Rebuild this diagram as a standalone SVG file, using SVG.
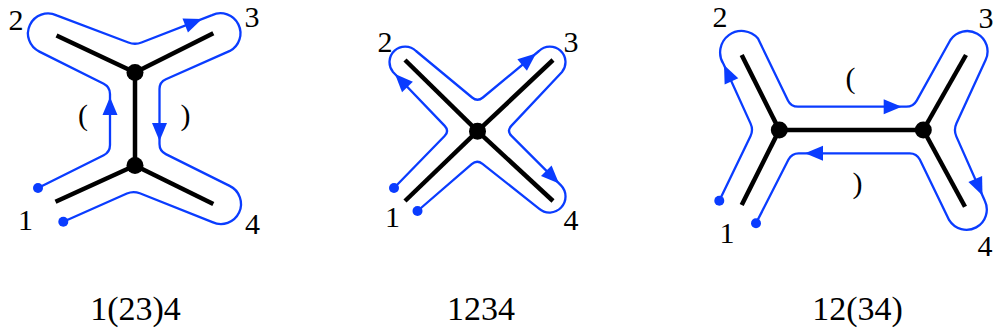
<svg xmlns="http://www.w3.org/2000/svg" xmlns:xlink="http://www.w3.org/1999/xlink" width="994" height="335" viewBox="0 0 994 335">
<defs>
<style>
.edge{stroke:#000;stroke-width:4.5;fill:none;stroke-linecap:butt}
.vtx{fill:#000}
.walk{stroke:#0a3cff;stroke-width:2.3;fill:none;stroke-linejoin:round}
.dot{fill:#0a3cff}
.arr{fill:#0a3cff}
.lbl{font-family:"Liberation Serif","Times New Roman",serif;font-size:30px;fill:#000;text-anchor:middle}
.cap{font-family:"Liberation Serif","Times New Roman",serif;font-size:34px;fill:#000;text-anchor:middle}
</style>
<path id="ah" d="M0,0 L-18,-7.5 L-18,7.5 Z"/>
</defs>
<rect width="994" height="335" fill="#fff"/>

<g id="connectors">
<g id="d1-edges">
<line class="edge" x1="135" y1="72.5" x2="56.5" y2="35.5"/>
<line class="edge" x1="135" y1="72.5" x2="213.3" y2="33.3"/>
<line class="edge" x1="135" y1="72.5" x2="135" y2="165.5"/>
<line class="edge" x1="135" y1="165.5" x2="55.5" y2="201.7"/>
<line class="edge" x1="135" y1="165.5" x2="213.3" y2="204"/>
</g>
<g id="d2-edges">
<line class="edge" x1="477.5" y1="131.2" x2="405" y2="60"/>
<line class="edge" x1="477.5" y1="131.2" x2="553" y2="60"/>
<line class="edge" x1="477.5" y1="131.2" x2="405" y2="201"/>
<line class="edge" x1="477.5" y1="131.2" x2="553" y2="201"/>
</g>
<g id="d3-edges">
<line class="edge" x1="779.3" y1="130" x2="741.7" y2="55"/>
<line class="edge" x1="779.3" y1="130" x2="741.7" y2="205"/>
<line class="edge" x1="779.3" y1="130" x2="923.3" y2="130"/>
<line class="edge" x1="923.3" y1="130" x2="966" y2="55"/>
<line class="edge" x1="923.3" y1="130" x2="965" y2="206.7"/>
</g>
</g>

<g id="d1-walk">
<path class="walk" d="M38,188 L103.7,155.2 Q110,152 110,145 L110,94 Q110,87 103.7,83.8 L39.4,51.6 A20 20 0 0 1 56.6,15.4 L128.4,42.5 Q135,45 141.5,42.5 L212.1,15.1 A20 20 0 0 1 229.9,50.9 L165.9,79.2 Q159.5,82 159.5,89 L159.5,144 Q159.5,151 165.8,154.1 L229.6,185.9 A20 20 0 0 1 212.4,222.1 L139.8,193.3 Q133.3,190.7 126.9,193.5 L63.3,221.7"/>
<circle class="dot" cx="38" cy="188" r="5"/>
<circle class="dot" cx="63.3" cy="221.7" r="5"/>
<use xlink:href="#ah" class="arr" transform="translate(110,97) rotate(-90)"/>
<use xlink:href="#ah" class="arr" transform="translate(159.5,141) rotate(90)"/>
<use xlink:href="#ah" class="arr" transform="translate(202,19) rotate(-21.2)"/>
</g>

<g id="d2-walk">
<path class="walk" d="M394,188 L444.6,136 Q449.5,131 444.7,125.9 L393,72 A15.6 15.6 0 0 1 416,51 L472.1,97.5 Q477.5,102 482.9,97.5 L539,51 A15.6 15.6 0 0 1 562,72 L511.3,125.9 Q506.5,131 511.5,135.9 L561,185.4 A16 16 0 0 1 539,208.6 L482.5,163.85 Q477,159.5 471.7,164.1 L417.5,211"/>
<circle class="dot" cx="394" cy="188" r="5"/>
<circle class="dot" cx="417.5" cy="211" r="5"/>
<use xlink:href="#ah" class="arr" transform="translate(395,74) rotate(-133.8)"/>
<use xlink:href="#ah" class="arr" transform="translate(536,53.5) rotate(-39.6)"/>
<use xlink:href="#ah" class="arr" transform="translate(559,183.5) rotate(45)"/>
</g>

<g id="d3-walk">
<path class="walk" d="M719.3,200.7 L750.45,136.3 Q753.5,130 750.6,123.6 L723.5,64 A21.5 21.5 0 0 1 758,38.5 L787.95,100.4 Q791,106.7 798,106.7 L906.3,106.7 Q913.3,106.7 916.7,100.6 L950.4,40 A20.3 20.3 0 0 1 985.6,60 L956.4,123.6 Q953.5,130 956.3,136.4 L984.8,200.8 A20.3 20.3 0 0 1 949.2,220.2 L919.8,159.6 Q916.7,153.3 909.7,153.3 L798.7,153.3 Q791.7,153.3 788.5,159.5 L756,223.3"/>
<circle class="dot" cx="719.3" cy="200.7" r="5"/>
<circle class="dot" cx="756" cy="223.3" r="5"/>
<use xlink:href="#ah" class="arr" transform="translate(724,65) rotate(-114.5)"/>
<use xlink:href="#ah" class="arr" transform="translate(901.7,106.7)"/>
<use xlink:href="#ah" class="arr" transform="translate(982.5,195.5) rotate(66.2)"/>
<use xlink:href="#ah" class="arr" transform="translate(805,153.3) rotate(180)"/>
</g>

<g id="d1-v-top"><circle class="vtx" cx="135" cy="72.5" r="8.5"/></g>
<g id="d1-v-bottom"><circle class="vtx" cx="135" cy="165.5" r="8.5"/></g>
<g id="d2-v-center"><circle class="vtx" cx="477.5" cy="131.2" r="8.5"/></g>
<g id="d3-v-left"><circle class="vtx" cx="779.3" cy="130" r="8.5"/></g>
<g id="d3-v-right"><circle class="vtx" cx="923.3" cy="130" r="8.5"/></g>

<g id="d1-labels">
<text class="lbl" x="16" y="30">2</text>
<text class="lbl" x="252" y="26.5">3</text>
<text class="lbl" x="25.5" y="230">1</text>
<text class="lbl" x="252.5" y="233.5">4</text>
<text class="lbl" x="83" y="125">(</text>
<text class="lbl" x="185.5" y="125">)</text>
</g>
<g id="d2-labels">
<text class="lbl" x="385" y="51.7">2</text>
<text class="lbl" x="571" y="51.5">3</text>
<text class="lbl" x="392.5" y="226.7">1</text>
<text class="lbl" x="571" y="230">4</text>
</g>
<g id="d3-labels">
<text class="lbl" x="720" y="27">2</text>
<text class="lbl" x="986" y="28">3</text>
<text class="lbl" x="727" y="243">1</text>
<text class="lbl" x="985" y="256">4</text>
<text class="lbl" x="850.5" y="88">(</text>
<text class="lbl" x="857.5" y="193">)</text>
</g>
<g id="captions">
<text class="cap" x="135.5" y="320">1(23)4</text>
<text class="cap" x="481" y="320">1234</text>
<text class="cap" x="857.5" y="320">12(34)</text>
</g>
</svg>
